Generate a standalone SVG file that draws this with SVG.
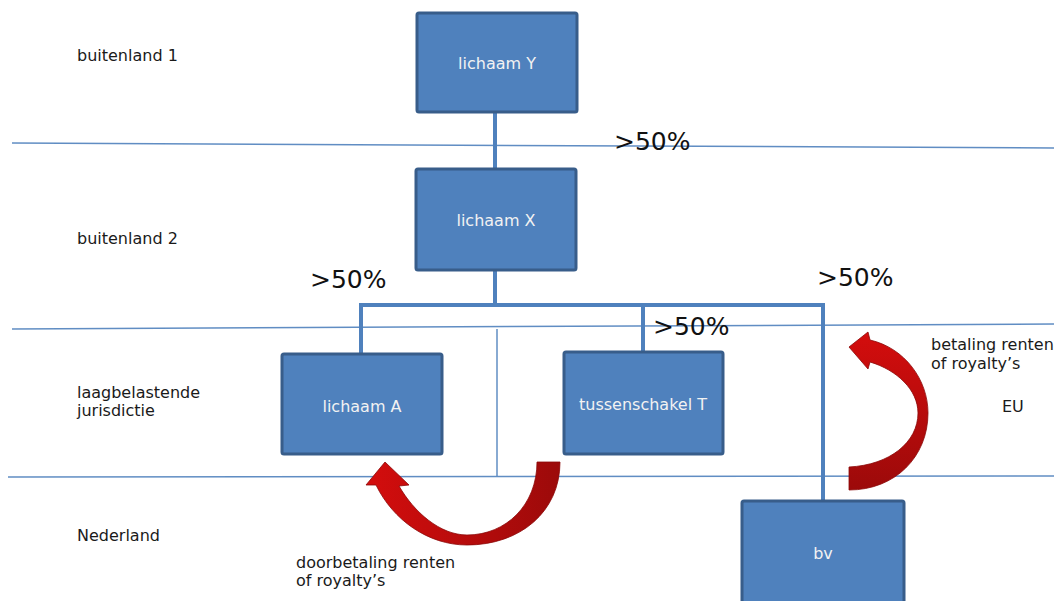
<svg xmlns="http://www.w3.org/2000/svg" width="1054" height="601" viewBox="0 0 1054 601">
<defs>
<style>
.box{fill:#4f81bd;stroke:#385d8a;stroke-width:3}
.bt{font-family:"DejaVu Sans",Verdana,sans-serif;font-size:16px;fill:#f2f2f2;text-anchor:middle}
.lbl{font-family:"DejaVu Sans",Verdana,sans-serif;font-size:16px;fill:#1a1a1a}
.pct{font-family:"DejaVu Sans",Verdana,sans-serif;font-size:25px;fill:#111111}
.div{stroke:#4f81bd;stroke-width:1.5;fill:none;opacity:0.9}
.con{stroke:#4f81bd;stroke-width:4;fill:none}
</style>
<linearGradient id="g1" x1="0" y1="0" x2="1" y2="0">
<stop offset="0" stop-color="#d40d0d"/>
<stop offset="1" stop-color="#9c0a0a"/>
</linearGradient>
<linearGradient id="g2" x1="0" y1="0" x2="0" y2="1">
<stop offset="0" stop-color="#d40d0d"/>
<stop offset="1" stop-color="#9c0a0a"/>
</linearGradient>
</defs>
<rect width="1054" height="601" fill="#ffffff"/>
<g id="dividers">
<line class="div" x1="12" y1="143" x2="1054" y2="148"/>
<line class="div" x1="12" y1="329" x2="1054" y2="324"/>
<line class="div" x1="8" y1="477" x2="1054" y2="476"/>
<line class="div" x1="497" y1="329" x2="497" y2="476"/>
</g>
<g id="connectors">
<line class="con" x1="495" y1="112" x2="495" y2="169"/>
<line class="con" x1="495" y1="270" x2="495" y2="305"/>
<polyline class="con" points="361,355 361,305 823,305 823,502"/>
<line class="con" x1="643" y1="305" x2="643" y2="353"/>
</g>
<g id="zone-labels">
<text class="lbl" x="77" y="61">buitenland 1</text>
<text class="lbl" x="77" y="244">buitenland 2</text>
<text class="lbl" x="77" y="398">laagbelastende</text>
<text class="lbl" x="77" y="416">jurisdictie</text>
<text class="lbl" x="77" y="541">Nederland</text>
</g>
<g id="node-Y"><rect class="box" x="417" y="13" width="160" height="99" rx="2"/><text class="bt" x="497" y="69">lichaam Y</text></g>
<g id="node-X"><rect class="box" x="416" y="169" width="160" height="101" rx="2"/><text class="bt" x="496" y="226">lichaam X</text></g>
<g id="node-A"><rect class="box" x="282" y="354" width="160" height="100" rx="2"/><text class="bt" x="362" y="412">lichaam A</text></g>
<g id="node-T"><rect class="box" x="564" y="352" width="159" height="102" rx="2"/><text class="bt" x="643" y="410">tussenschakel T</text></g>
<g id="node-bv"><rect class="box" x="742" y="501" width="162" height="110" rx="2"/><text class="bt" x="823" y="559">bv</text></g>
<g id="percentages">
<text class="pct" x="614" y="150">&gt;50%</text>
<text class="pct" x="310" y="288">&gt;50%</text>
<text class="pct" x="817" y="286">&gt;50%</text>
<text class="pct" x="653" y="335">&gt;50%</text>
</g>
<g id="arrow-doorbetaling">
<path fill="url(#g1)" stroke="#8a0808" stroke-width="0.8" d="M 537 462 L 560 462 C 560 512 520 545 467 545 C 428 545 393 520 376 485 L 366 485 L 385 462 L 409 485 L 399 486 C 414 512 440 535 467 535 C 506 535 537 505 537 462 Z"/>
<text class="lbl" x="296" y="568">doorbetaling renten</text>
<text class="lbl" x="296" y="586">of royalty’s</text>
</g>
<g id="arrow-betaling">
<path fill="url(#g2)" stroke="#8a0808" stroke-width="0.8" d="M 849 467 C 890 465 918 442 918 413 C 918 390 897 370 870 362 L 868 369 L 849 347 L 868 332 L 870 340 C 905 348 928 380 928 413 C 928 457 895 490 849 490 Z"/>
<text class="lbl" x="931" y="350">betaling renten</text>
<text class="lbl" x="931" y="369">of royalty’s</text>
<text class="lbl" x="1002" y="412">EU</text>
</g>
</svg>
